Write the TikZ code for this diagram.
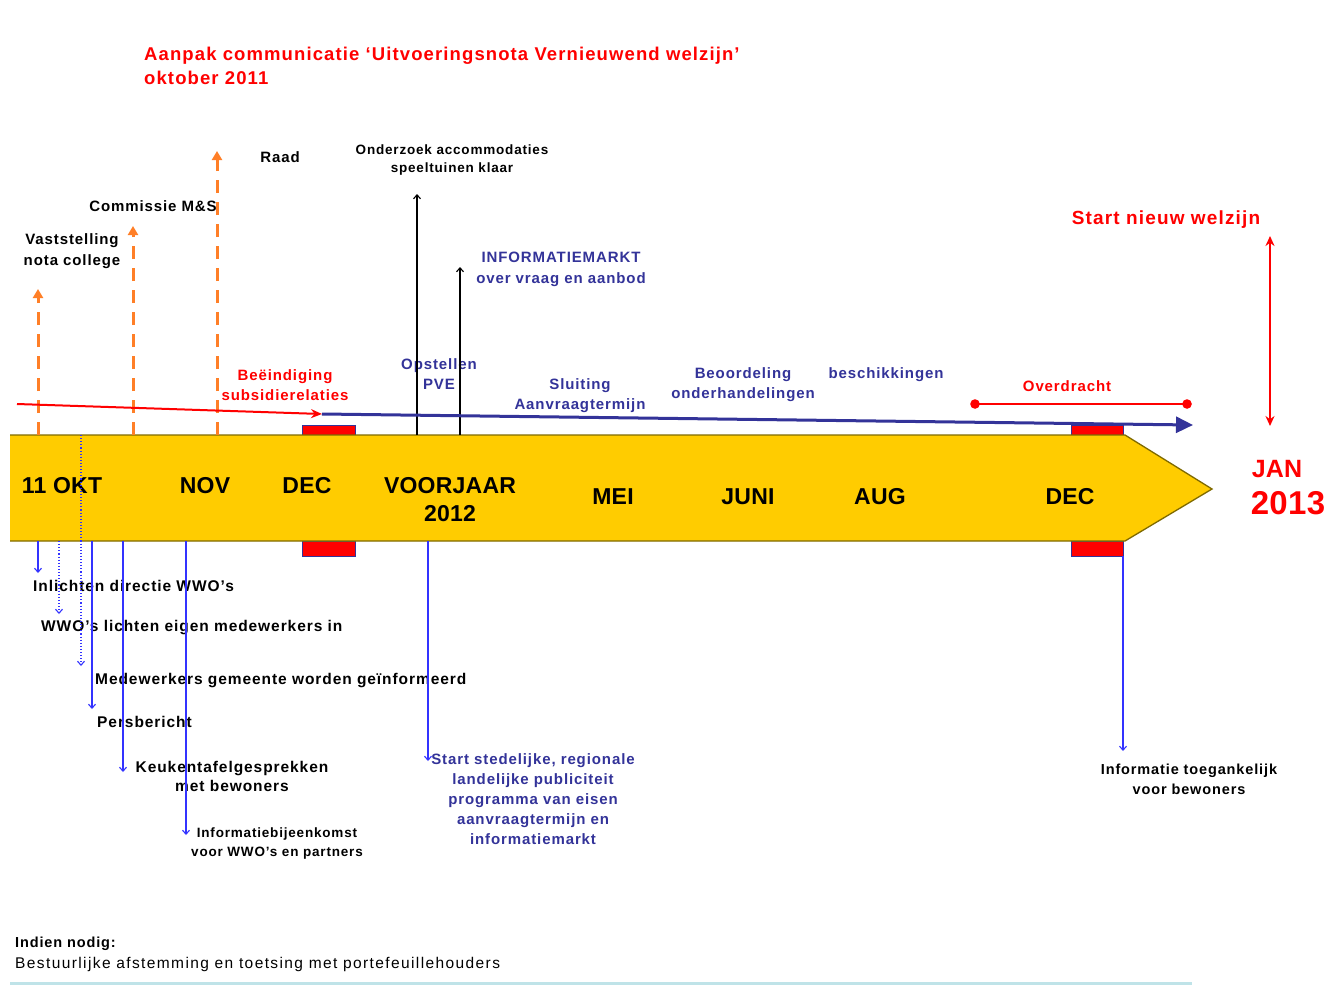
\documentclass[tikz,border=0pt]{standalone}
\usepackage{fontspec}
\setmainfont{Liberation Sans}[LetterSpace=6]
\newfontfamily\monthfont{Liberation Sans}[LetterSpace=1]
\usetikzlibrary{arrows.meta}
\definecolor{tlyellow}{HTML}{FFCC00}
\definecolor{tlborder}{HTML}{7F6A00}
\definecolor{navy}{HTML}{333399}
\definecolor{lblue}{HTML}{3333FF}
\definecolor{oranj}{HTML}{FF7F27}
\definecolor{cyanl}{HTML}{BFE3E8}
\newcommand{\setfs}[2]{\fontsize{#1}{#2}\selectfont}
\begin{document}
\begin{tikzpicture}[x=1pt,y=-1pt,
  base/.style={inner sep=0pt, align=center},
  blk/.style={base, font=\bfseries\setfs{15}{21}},
  blksm/.style={base, font=\bfseries\setfs{13.5}{18}},
  navytxt/.style={base, text=navy, font=\bfseries\setfs{15}{20}},
  redtxt/.style={base, text=red, font=\bfseries\setfs{15}{20}},
  month/.style={base, font=\monthfont\bfseries\setfs{23}{28}},
  bottxt/.style={base, font=\bfseries\setfs{15.5}{19}},
  orangearrow/.style={oranj, line width=3pt, dash pattern=on 13pt off 9pt, -{Triangle[length=9pt,width=10pt]}},
  blackarrow/.style={black, line width=1.1pt, -{Straight Barb[length=4pt,width=7pt]}},
  bluedown/.style={lblue, line width=1.1pt, -{Straight Barb[length=4pt,width=7pt]}},
  bluedot/.style={bluedown, dotted},
  redbox/.style={fill=red, draw=navy, line width=0.8pt},
]
\useasboundingbox (0,0) rectangle (1343,985);
\fill[white] (0,0) rectangle (1343,985);

% title
\node[base, anchor=north west, align=left, text=red, font=\bfseries\setfs{18.5}{24}] (title) at (144,47)
  {Aanpak communicatie ‘Uitvoeringsnota Vernieuwend welzijn’\\oktober 2011};

% red boxes
\draw[redbox] (302,425) rectangle (355,435);
\draw[redbox] (302,541) rectangle (355,556);
\draw[redbox] (1071,425) rectangle (1123,435);
\draw[redbox] (1071,541) rectangle (1123,556);

% timeline arrow
\fill[tlyellow] (10,435) -- (1125,435) -- (1212,489) -- (1125,541) -- (10,541) -- cycle;
\draw[tlborder, line width=1.3pt] (10,435) -- (1125,435) -- (1212,489) -- (1125,541) -- (10,541);

% month labels
\node[month] (m1) at (62,486) {11 OKT};
\node[month] (m2) at (205,486) {NOV};
\node[month] (m3) at (307,486) {DEC};
\node[month] (m4) at (450,500) {VOORJAAR\\2012};
\node[month] (m5) at (613,497) {MEI};
\node[month] (m6) at (748,497) {JUNI};
\node[month] (m7) at (880,497) {AUG};
\node[month] (m8) at (1070,497) {DEC};
\node[base, text=red, font=\monthfont\bfseries\setfs{25}{30}] (jan) at (1277,469) {JAN};
\node[base, text=red, font=\monthfont\bfseries\setfs{33}{36}] (y2013) at (1288,503) {2013};

% top labels
\node[blk] (raad) at (280,157) {Raad};
\node[blk] (cms) at (153,206) {Commissie M\&S};
\node[blk] (vast) at (72,251) {Vaststelling\\nota college};
\node[blksm] (onder) at (452,160) {Onderzoek accommodaties\\speeltuinen klaar};
\node[navytxt, font=\bfseries\setfs{15}{21}] (imarkt) at (561,269) {INFORMATIEMARKT\\over vraag en aanbod};
\node[redtxt] (beeind) at (285,385) {Beëindiging\\subsidierelaties};
\node[navytxt] (pve) at (439,374) {Opstellen\\PVE};
\node[navytxt] (sluit) at (580,396) {Sluiting\\Aanvraagtermijn};
\node[navytxt] (beoord) at (743,385) {Beoordeling\\onderhandelingen};
\node[navytxt] (besch) at (886,375) {beschikkingen};
\node[redtxt] (overd) at (1067,386) {Overdracht};
\node[base, text=red, font=\bfseries\setfs{19}{22}] (start) at (1166,220) {Start nieuw welzijn};

% orange dashed arrows
\coordinate (o1s) at (38,435);  \coordinate (o1e) at (38,289);
\coordinate (o2s) at (133,435); \coordinate (o2e) at (133,226);
\coordinate (o3s) at (217,435); \coordinate (o3e) at (217,151);
\draw[orangearrow] (o1s) -- (o1e);
\draw[orangearrow] (o2s) -- (o2e);
\draw[orangearrow] (o3s) -- (o3e);

% black arrows
\coordinate (b1s) at (417,435); \coordinate (b1e) at (417,194);
\coordinate (b2s) at (460,435); \coordinate (b2e) at (460,267);
\draw[blackarrow] (b1s) -- (b1e);
\draw[blackarrow] (b2s) -- (b2e);

% red and blue horizontal arrows
\coordinate (r1) at (17,404);
\coordinate (r2) at (322,414);
\coordinate (bl2) at (1193,425);
\draw[navy, line width=3pt, -{Triangle[length=17pt,width=16pt]}] (r2) -- (bl2);
\draw[red, line width=2pt, -{Stealth[length=11pt,width=9pt]}] (r1) -- (r2);

% overdracht line
\coordinate (ov1) at (975,404);
\coordinate (ov2) at (1187,404);
\draw[red, line width=2pt] (ov1) -- (ov2);
\fill[red] (ov1) circle (4.8pt) (ov2) circle (4.8pt);

% red double arrow
\coordinate (d1) at (1270,236);
\coordinate (d2) at (1270,426);
\draw[red, line width=2pt, {Stealth[length=10pt,width=9pt]}-{Stealth[length=10pt,width=9pt]}] (d1) -- (d2);

% bottom labels
\node[bottxt, anchor=west] (inl) at (33,586) {Inlichten directie WWO’s};
\node[bottxt, anchor=west] (wwo) at (41,628) {WWO’s lichten eigen medewerkers in};
\node[bottxt, anchor=west] (medew) at (95,681) {Medewerkers gemeente worden geïnformeerd};
\node[bottxt, anchor=west] (pers) at (97,722) {Persbericht};
\node[bottxt] (keuk) at (232,776) {Keukentafelgesprekken\\met bewoners};
\node[blksm, font=\bfseries\setfs{13.5}{19}] (infob) at (277,843) {Informatiebijeenkomst\\voor WWO’s en partners};
\node[navytxt] (startst) at (533,799) {Start stedelijke, regionale\\landelijke publiciteit\\programma van eisen\\aanvraagtermijn en\\informatiemarkt};
\node[blk, font=\bfseries\setfs{14.5}{20}] (infot) at (1189,779) {Informatie toegankelijk\\voor bewoners};

% bottom blue arrows
\coordinate (u1s) at (38,541);  \coordinate (u1e) at (38,573);
\coordinate (u2s) at (59,541);  \coordinate (u2e) at (59,614);
\coordinate (u3s) at (81,435);  \coordinate (u3e) at (81,666);
\coordinate (u4s) at (92,541);  \coordinate (u4e) at (92,709);
\coordinate (u5s) at (123,541); \coordinate (u5e) at (123,772);
\coordinate (u6s) at (186,541); \coordinate (u6e) at (186,835);
\coordinate (u7s) at (428,541); \coordinate (u7e) at (428,761);
\coordinate (u8s) at (1123,556); \coordinate (u8e) at (1123,751);
\draw[bluedown] (u1s) -- (u1e);
\draw[bluedot] (u2s) -- (u2e);
\draw[bluedot] (u3s) -- (u3e);
\draw[bluedown] (u4s) -- (u4e);
\draw[bluedown] (u5s) -- (u5e);
\draw[bluedown] (u6s) -- (u6e);
\draw[bluedown] (u7s) -- (u7e);
\draw[bluedown] (u8s) -- (u8e);

% footer
\node[base, anchor=west, font=\bfseries\setfs{14.5}{18}] (indien) at (15,944) {Indien nodig:};
\node[base, anchor=west, font=\setfs{15.5}{18}\addfontfeature{LetterSpace=9}] (bestuur) at (15,964) {Bestuurlijke afstemming en toetsing met portefeuillehouders};
\coordinate (c1) at (10,983);
\coordinate (c2) at (1192,983);
\draw[cyanl, line width=3pt] (c1) -- (c2);
\end{tikzpicture}
\end{document}
